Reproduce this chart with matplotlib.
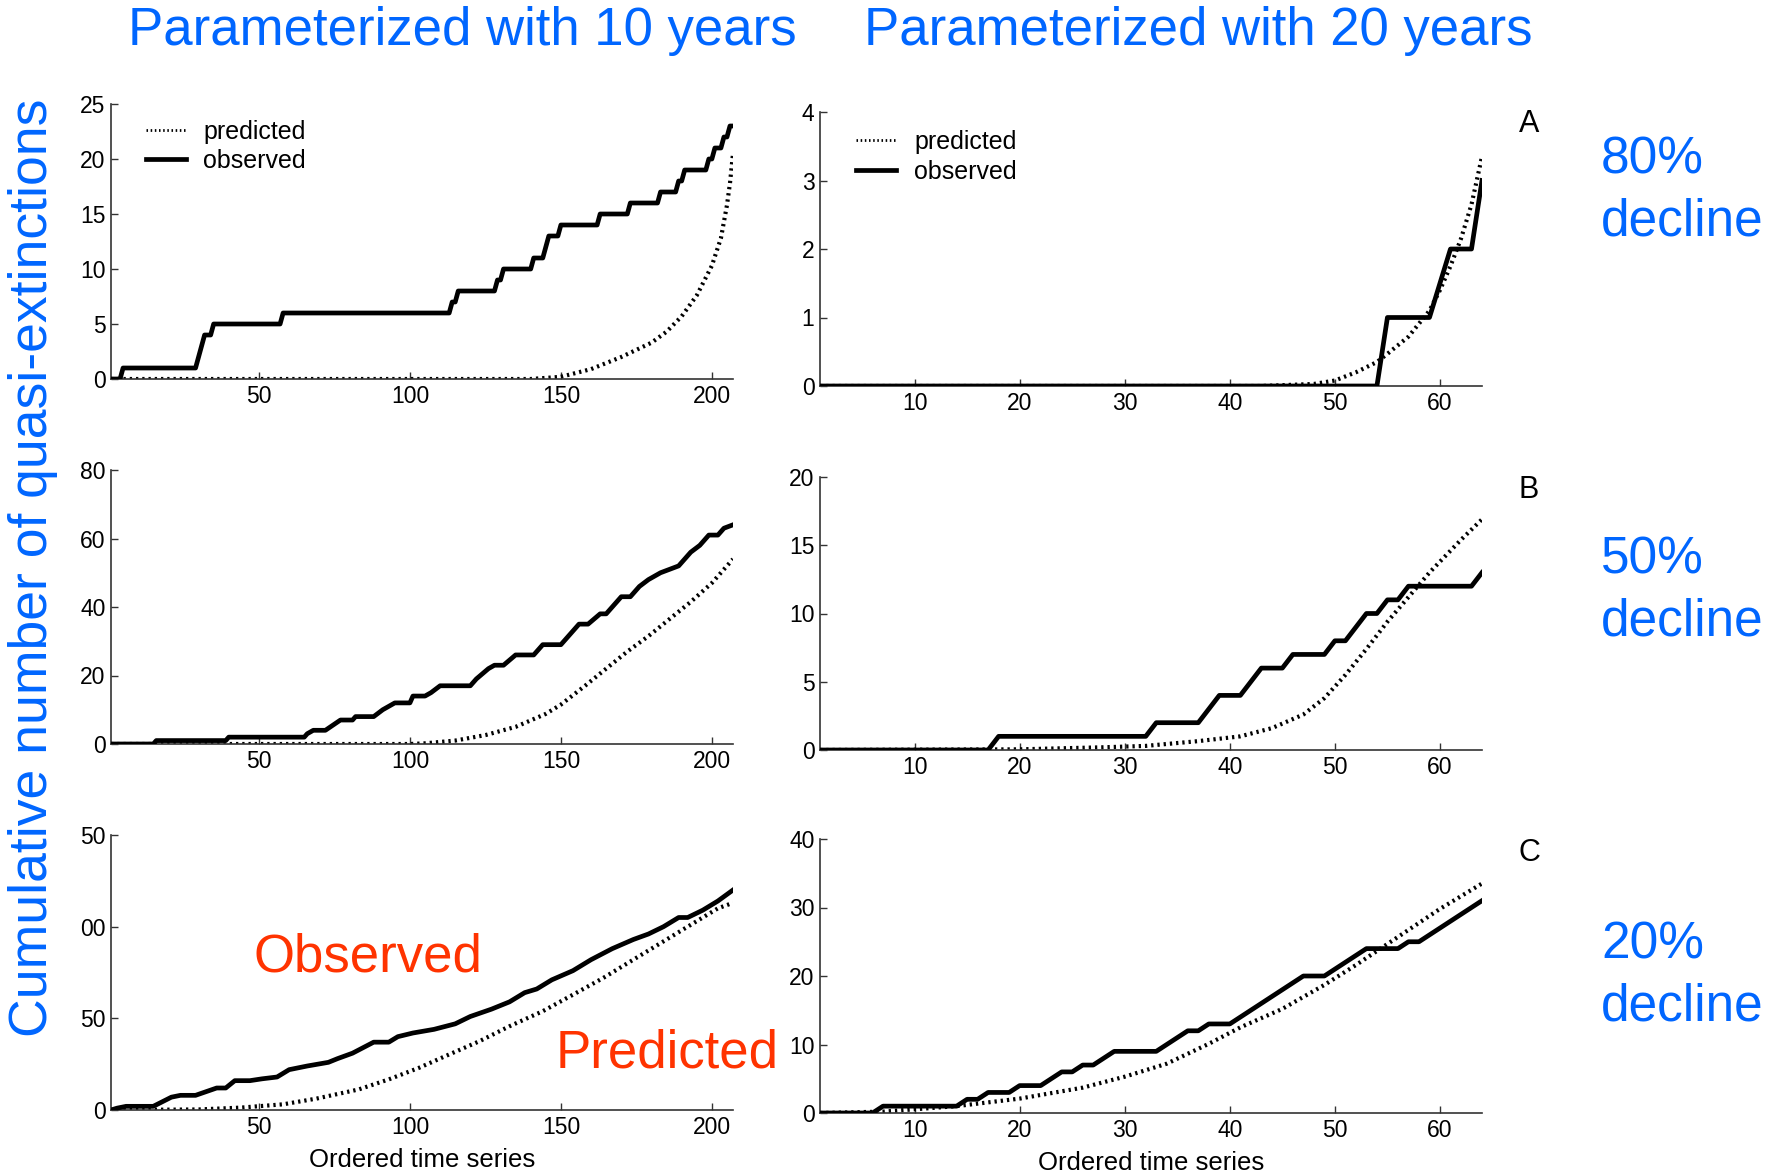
#!/usr/bin/env python3
# -*- coding: utf-8 -*-
import numpy as np
import matplotlib
matplotlib.use('Agg')
import matplotlib.pyplot as plt

plt.rcParams['font.family'] = ['Liberation Sans', 'DejaVu Sans']

# ---- data ----
# row A (80% decline), parameterized with 10 years
tl_obs_x = [1, 4, 5, 29, 30, 31, 32, 34, 35, 57, 58, 113, 114, 115, 116, 128, 129, 130, 131,
            140, 141, 144, 145, 146, 149, 150, 162, 163, 172, 173, 182, 183, 188, 189, 190, 191,
            198, 199, 200, 201, 203, 204, 205, 206, 207]
tl_obs_y = [0, 0, 1, 1, 2, 3, 4, 4, 5, 5, 6, 6, 7, 7, 8, 8, 9, 9, 10,
            10, 11, 11, 12, 13, 13, 14, 14, 15, 15, 16, 16, 17, 17, 18, 18, 19,
            19, 20, 20, 21, 21, 22, 22, 23, 23]
tl_pred_x = [1, 140, 150, 160, 170, 180, 185, 190, 195, 200, 203, 205, 206, 207]
tl_pred_y = [0, 0, 0.2, 0.9, 2.0, 3.3, 4.3, 5.7, 7.6, 10.3, 12.8, 15.8, 17.8, 20.5]

# row A, parameterized with 20 years
tr_obs_x = [1, 54, 55, 59, 61, 63, 64]
tr_obs_y = [0, 0, 1, 1, 2, 2, 3]
tr_pred_x = [1, 43, 48, 50, 52, 54, 55, 57, 59, 60, 61, 62, 63, 64]
tr_pred_y = [0, 0, 0.03, 0.08, 0.2, 0.35, 0.47, 0.72, 1.1, 1.4, 1.75, 2.15, 2.65, 3.35]

# row B (50% decline)
ml_obs_x = [1, 15, 16, 39, 40, 65, 66, 68, 72, 77, 81, 82, 88, 91, 95, 100, 101, 105, 107, 110,
            120, 122, 126, 128, 131, 135, 141, 144, 150, 156, 159, 163, 165, 170, 173, 176, 179,
            183, 186, 189, 193, 196, 199, 202, 204, 207]
ml_obs_y = [0, 0, 1, 1, 2, 2, 3, 4, 4, 7, 7, 8, 8, 10, 12, 12, 14, 14, 15, 17,
            17, 19, 22, 23, 23, 26, 26, 29, 29, 35, 35, 38, 38, 43, 43, 46, 48,
            50, 51, 52, 56, 58, 61, 61, 63, 64]
ml_pred_x = [1, 100, 105, 115, 125, 135, 145, 150, 158, 165, 172, 179, 186, 193, 200, 207]
ml_pred_y = [0, 0, 0.2, 1.0, 2.6, 5.0, 8.8, 11.5, 17, 22, 27, 31.5, 36.5, 41.5, 47, 54]

mr_obs_x = [1, 17, 18, 32, 33, 37, 39, 41, 43, 45, 46, 49, 50, 51, 53, 54, 55, 56, 57, 63, 64]
mr_obs_y = [0, 0, 1, 1, 2, 2, 4, 4, 6, 6, 7, 7, 8, 8, 10, 10, 11, 11, 12, 12, 13]
mr_pred_x = [1, 20, 28, 32, 37, 41, 44, 47, 49, 51, 53, 55, 57, 59, 62, 64]
mr_pred_y = [0, 0.05, 0.2, 0.3, 0.65, 1.0, 1.6, 2.6, 3.8, 5.5, 7.4, 9.4, 11.2, 13.0, 15.4, 16.9]

# row C (20% decline)
bl_obs_x = [1, 3, 6, 15, 21, 24, 29, 36, 39, 42, 47, 51, 56, 60, 66, 73, 76, 81, 88, 93,
            96, 101, 108, 115, 120, 127, 133, 138, 142, 147, 154, 160, 167, 174, 179, 184,
            189, 192, 197, 202, 207]
bl_obs_y = [0, 1, 2, 2, 7, 8, 8, 12, 12, 16, 16, 17, 18, 22, 24, 26, 28, 31, 37, 37,
            40, 42, 44, 47, 51, 55, 59, 64, 66, 71, 76, 82, 88, 93, 96, 100,
            105, 105, 109, 114, 120]
bl_pred_x = [1, 30, 44, 58, 69, 83, 93, 103, 113, 123, 133, 144, 154, 164, 174, 184, 192, 202, 207]
bl_pred_y = [0, 0.3, 1.3, 3.1, 6.2, 11.2, 16.7, 23, 30.3, 37.5, 45.7, 53.9, 62.9, 72, 82, 92,
             100, 110, 113]

br_obs_x = [1, 6, 7, 14, 15, 16, 17, 19, 20, 22, 24, 25, 26, 27, 29, 33, 35, 36, 37, 38,
            40, 44, 47, 49, 53, 56, 57, 58, 64]
br_obs_y = [0, 0, 1, 1, 2, 2, 3, 3, 4, 4, 6, 6, 7, 7, 9, 9, 11, 12, 12, 13,
            13, 17, 20, 20, 24, 24, 25, 25, 31]
br_pred_x = [1, 7, 14, 20, 26, 30, 34, 38, 41, 45, 49, 52, 56, 60, 64]
br_pred_y = [0, 0.2, 1.0, 2.1, 3.7, 5.3, 7.2, 10.1, 12.5, 15.2, 18.7, 21.6, 25.7, 29.8, 33.5]

left_xticks = [50, 100, 150, 200]
right_xticks = [10, 20, 30, 40, 50, 60]
tl_yticks = [0, 5, 10, 15, 20, 25]
tr_yticks = [0, 1, 2, 3, 4]
ml_yticks = [0, 20, 40, 60, 80]
mr_yticks = [0, 5, 10, 15, 20]
bl_yticks = [0, 50, 100, 150]
bl_yticklabels = ['0', '50', '00', '50']   # leading "1" hidden behind the big label
br_yticks = [0, 10, 20, 30, 40]

col_titles = ['Parameterized with 10 years', 'Parameterized with 20 years']
row_letters = ['A', 'B', 'C']
row_declines = ['80%', '50%', '20%']

BLUE = '#0066ff'
RED = '#ff3300'
W, H = 1792, 1173


def px_axes(fig, left, top, right, bottom):
    return fig.add_axes([left / W, 1 - bottom / H, (right - left) / W, (bottom - top) / H])


def px_text(fig, x, y, s, **kw):
    return fig.text(x / W, 1 - y / H, s, **kw)


def draw_panel(ax, obs_x, obs_y, pred_x, pred_y, xmax, yticks, yticklabels=None, legend=None):
    ax.plot(pred_x, pred_y, color='k', lw=3.0, ls=(0, (0.55, 0.95)), label='predicted', zorder=2)
    ax.plot(obs_x, obs_y, color='k', lw=3.4, label='observed', zorder=3)
    ax.set_xlim(1, xmax)
    ax.set_ylim(0, yticks[-1])
    ax.set_yticks(yticks)
    if yticklabels is not None:
        ax.set_yticklabels(yticklabels)
    for s in ['top', 'right']:
        ax.spines[s].set_visible(False)
    for s in ['left', 'bottom']:
        ax.spines[s].set_color('#333333')
        ax.spines[s].set_linewidth(1.2)
    ax.tick_params(direction='in', length=5, width=1, labelsize=16.5, pad=4, color='#333333')
    if legend is not None:
        leg = ax.legend(loc='upper left', bbox_to_anchor=legend, frameon=False, fontsize=18,
                        handlelength=1.6, labelspacing=0.22, handletextpad=0.7, borderaxespad=0)
        leg.get_lines()[0].set_linewidth(2.0)


def main():
    fig = plt.figure(figsize=(W / 100, H / 100), dpi=100)

    # left column axes
    ax = px_axes(fig, 111, 104, 733, 379)
    draw_panel(ax, tl_obs_x, tl_obs_y, tl_pred_x, tl_pred_y, 207, tl_yticks, legend=(0.04, 0.98))
    ax.set_xticks(left_xticks)
    ax = px_axes(fig, 111, 470, 733, 744)
    draw_panel(ax, ml_obs_x, ml_obs_y, ml_pred_x, ml_pred_y, 207, ml_yticks)
    ax.set_xticks(left_xticks)
    ax = px_axes(fig, 111, 835, 733, 1110)
    draw_panel(ax, bl_obs_x, bl_obs_y, bl_pred_x, bl_pred_y, 207, bl_yticks, bl_yticklabels)
    ax.set_xticks(left_xticks)
    ax.set_xlabel('Ordered time series', fontsize=18.5, labelpad=7)

    # right column axes
    ax = px_axes(fig, 820, 112, 1482, 386)
    draw_panel(ax, tr_obs_x, tr_obs_y, tr_pred_x, tr_pred_y, 64, tr_yticks, legend=(0.04, 0.97))
    ax.set_xticks(right_xticks)
    ax = px_axes(fig, 820, 477, 1482, 750)
    draw_panel(ax, mr_obs_x, mr_obs_y, mr_pred_x, mr_pred_y, 64, mr_yticks)
    ax.set_xticks(right_xticks)
    ax = px_axes(fig, 820, 839, 1482, 1113)
    draw_panel(ax, br_obs_x, br_obs_y, br_pred_x, br_pred_y, 64, br_yticks)
    ax.set_xticks(right_xticks)
    ax.set_xlabel('Ordered time series', fontsize=18.5, labelpad=7)

    # annotations
    px_text(fig, 462, 31, col_titles[0], color=BLUE, fontsize=38, ha='center', va='center')
    px_text(fig, 1198, 31, col_titles[1], color=BLUE, fontsize=38, ha='center', va='center')
    px_text(fig, 33, 568, 'Cumulative number of quasi-extinctions', color=BLUE, fontsize=38.5,
            rotation=90, ha='center', va='center')

    letter_y = [124, 490, 853]
    decl_y = [160, 560, 945]
    for i in range(3):
        px_text(fig, 1529, letter_y[i], row_letters[i], fontsize=22, ha='center', va='center')
        px_text(fig, 1601, decl_y[i], row_declines[i], color=BLUE, fontsize=37, ha='left', va='center')
        px_text(fig, 1601, decl_y[i] + 62, 'decline', color=BLUE, fontsize=37, ha='left', va='center')

    px_text(fig, 253, 958, 'Observed', color=RED, fontsize=38, ha='left', va='center')
    px_text(fig, 556, 1054, 'Predicted', color=RED, fontsize=38, ha='left', va='center')

    fig.savefig('out.png', dpi=100)


if __name__ == '__main__':
    main()
